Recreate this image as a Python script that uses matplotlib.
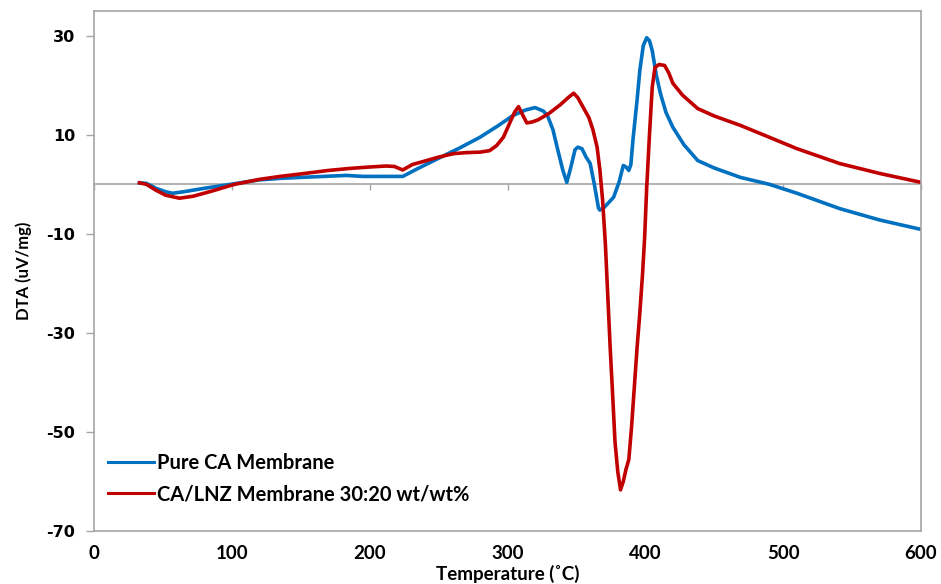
import matplotlib
matplotlib.use("Agg")
import matplotlib.pyplot as plt
import numpy as np

plt.rcParams["axes.unicode_minus"] = False

# ---- data ----
T_ca = [33, 38, 45, 52, 57, 65, 80, 99, 120, 135, 150, 183, 195, 210, 224, 235, 251, 265, 280,
        293, 304, 313, 320, 326, 329, 333, 336, 340, 343, 346, 349, 351, 354, 357, 360, 363,
        366, 367, 370, 374, 377, 381, 384, 386, 388, 389.5, 391, 394, 396, 398.5, 401, 403,
        405, 408, 411, 415, 420, 428, 438, 450, 469, 490, 510, 541, 570, 600]
dta_ca = [0.3, 0.2, -0.8, -1.5, -1.8, -1.5, -0.8, 0.0, 0.9, 1.2, 1.4, 1.8, 1.6, 1.6, 1.6, 3.2,
          5.4, 7.3, 9.5, 11.8, 13.9, 15.0, 15.5, 14.8, 13.9, 11.0, 7.5, 3.0, 0.4, 3.5, 7.0,
          7.5, 7.2, 5.5, 4.2, 0.0, -4.8, -5.2, -4.7, -3.5, -2.6, 0.5, 3.8, 3.5, 2.8, 4.0, 8.9,
          17, 23, 28, 29.6, 29, 27, 22, 18.3, 14.5, 11.5, 8, 4.8, 3.3, 1.4, 0.0, -1.8, -4.9,
          -7.2, -9.1]

T_lnz = [33, 38, 45, 52, 62, 72, 85, 102, 120, 135, 150, 170, 185, 200, 212, 218, 224, 231,
         240, 250, 261, 270, 280, 287, 292, 297, 301, 305, 308, 311, 314, 318, 322, 330, 338,
         344, 348, 351, 355, 359, 362, 365, 367, 369, 371, 373, 374.5, 376, 378, 380, 382,
         384, 386, 388, 390, 392, 394, 396, 398, 399.5, 401, 403, 405, 407, 410, 414, 417,
         420, 427, 438, 450, 469, 490, 510, 541, 570, 600]
dta_lnz = [0.3, 0.0, -1.2, -2.2, -2.8, -2.4, -1.4, 0.0, 1.0, 1.6, 2.1, 2.8, 3.2, 3.5, 3.7, 3.6,
           2.9, 4.0, 4.7, 5.5, 6.2, 6.4, 6.5, 6.8, 7.8, 9.5, 12, 14.5, 15.7, 14.0, 12.4, 12.6,
           13.0, 14.3, 16.0, 17.5, 18.4, 17.5, 15.5, 13.5, 11, 7.5, 3, -3.2, -12, -24, -33,
           -41, -52, -58, -61.7, -60, -57.5, -55.6, -49, -41, -33, -26, -18, -10.7, -0.6, 10,
           19.6, 23.6, 24.2, 24, 22.5, 20.4, 18, 15.3, 13.8, 11.9, 9.5, 7.2, 4.2, 2.2, 0.4]

labels = ["Pure CA Membrane", "CA/LNZ Membrane 30:20 wt/wt%"]
x_ticks = [0, 100, 200, 300, 400, 500, 600]
y_ticks = [-70, -50, -30, -10, 10, 30]

BLUE = "#0070C0"
RED = "#C00000"
GRAY = "#A6A6A6"
NARROW = ["Lato", "DejaVu Sans"]

fig = plt.figure(figsize=(9.41, 5.84), dpi=100)
ax = fig.add_axes([94/941, 53/584, 827/941, 520/584])

ax.plot(T_ca, dta_ca, color=BLUE, lw=2.6, label=labels[0], solid_joinstyle="round")
ax.plot(T_lnz, dta_lnz, color=RED, lw=2.6, label=labels[1], solid_joinstyle="round")

ax.set_xlim(0, 600)
ax.set_ylim(-70, 35)

for s in ax.spines.values():
    s.set_color(GRAY)
    s.set_linewidth(1.2)

# y axis
ax.set_yticks(y_ticks)
ax.tick_params(axis="y", direction="out", length=5.5, width=1, color=GRAY, pad=8,
               labelsize=11.5)
for t in ax.get_yticklabels():
    t.set_fontweight("bold")

# x tick labels at bottom without ticks
ax.set_xticks(x_ticks)
ax.tick_params(axis="x", length=0, pad=10, labelsize=13.5)
for t in ax.get_xticklabels():
    t.set_fontfamily(NARROW)
    t.set_fontweight("bold")

# secondary x axis positioned at y = 0 carrying the tick marks
sec = ax.secondary_xaxis(0, transform=ax.transData)
sec.set_xticks(x_ticks)
sec.tick_params(axis="x", direction="out", length=4.5, width=1, color=GRAY, labelbottom=False)
sec.spines["bottom"].set_color(GRAY)
sec.spines["bottom"].set_linewidth(1.2)

ax.set_xlabel("Temperature (˚C)", fontsize=13.5, fontweight="bold", family=NARROW, labelpad=2)
ax.set_ylabel("DTA (uV/mg)", fontsize=12, fontweight="bold", family=NARROW, labelpad=10)

leg = ax.legend(loc="upper left", bbox_to_anchor=(0.0, 0.177), frameon=False,
                prop={"family": NARROW, "weight": "bold", "size": 14.5},
                handlelength=2.3, handletextpad=0.15, labelspacing=0.55, borderaxespad=0.3)
for line in leg.get_lines():
    line.set_linewidth(2.2)

fig.savefig("out.png", dpi=100)
